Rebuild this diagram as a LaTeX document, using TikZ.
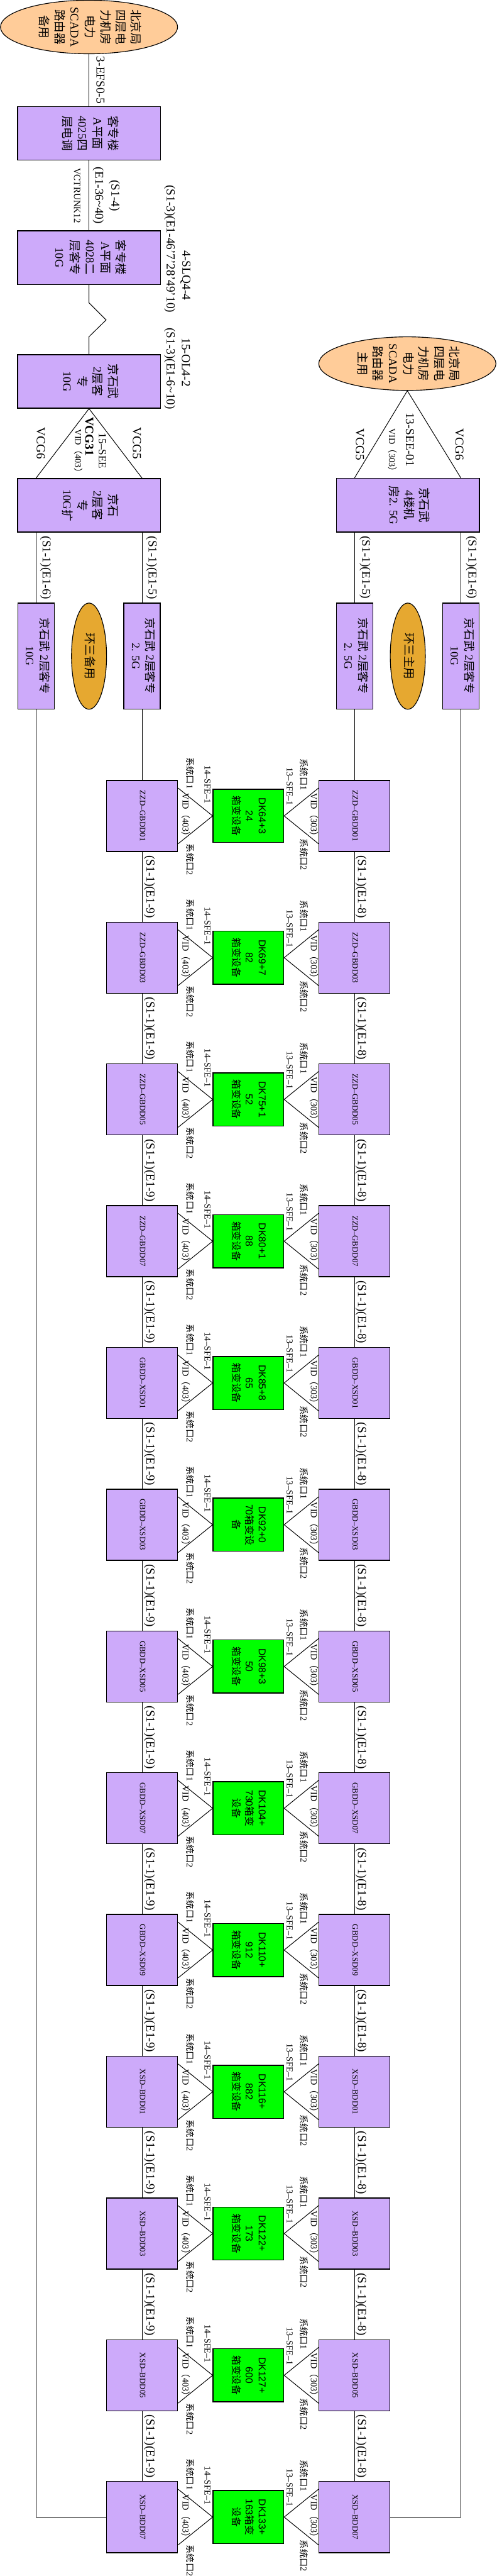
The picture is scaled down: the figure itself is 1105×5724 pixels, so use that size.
\documentclass[tikz,border=0pt]{standalone}
\usepackage{fontspec}
\setmainfont{Liberation Serif}
\newfontfamily\cjk{Noto Sans CJK SC}
\newfontfamily\dkfont{Liberation Sans}
\usepackage{graphicx}
\usetikzlibrary{calc,shapes.geometric}
\definecolor{lav}{RGB}{205,170,250}
\definecolor{dkg}{RGB}{0,255,0}
\definecolor{peach}{RGB}{255,204,153}
\definecolor{ringo}{RGB}{230,168,48}
\newcommand{\zh}[1]{{\cjk #1}}
\newcommand{\vt}[1]{\rotatebox{-90}{\begin{tabular}{@{}c@{}}#1\end{tabular}}}

\begin{document}
\begin{tikzpicture}[x=0.5pt,y=-0.5pt,
  dev/.style={draw,line width=1pt,fill=lav,inner sep=0pt},
  bigbox/.style={dev,minimum width=159pt,minimum height=59.5pt,font=\fontsize{13}{17}\selectfont},
  ringbox/.style={dev,minimum width=40.5pt,minimum height=118pt,font=\fontsize{12.5}{16}\selectfont},
  stnbox/.style={dev,minimum width=79pt,minimum height=79pt,font=\fontsize{9}{11}\selectfont},
  dkbox/.style={draw,line width=1pt,fill=dkg,inner sep=0pt,minimum width=78.5pt,minimum height=59pt,font=\dkfont\fontsize{11}{14.5}\selectfont},
  router/.style={ellipse,draw,line width=0.8pt,fill=peach,inner sep=-2pt,minimum width=197pt,minimum height=59.5pt,font=\fontsize{13}{17}\selectfont},
  ringell/.style={ellipse,draw,line width=0.8pt,fill=ringo,inner sep=0pt,minimum width=39pt,minimum height=118pt,font=\fontsize{13}{17}\selectfont},
  lbl/.style={inner sep=0pt,font=\fontsize{13.5}{18}\selectfont},
  tag/.style={inner sep=0pt,font=\fontsize{10}{12}\selectfont},
  link/.style={line width=0.7pt}]
  \useasboundingbox (0,0) rectangle (1105,5724);

  \node[router] (bak) at (198,60) {\vt{\zh{北京局}\\\zh{四层电}\\\zh{力机房}\\\zh{电力}\\SCADA\\\zh{路由器}\\\zh{备用}}};
  \node[bigbox] (b1) at (198,296.5) {\vt{\zh{客专楼}\\A\zh{平面}\\4025\zh{四}\\\zh{层电调}}};
  \node[bigbox] (b2) at (198,572.5) {\vt{\zh{客专楼}\\A\zh{平面}\\4028\zh{二}\\\zh{层客专}\\10G}};
  \node[bigbox] (b3) at (198,847.5) {\vt{\zh{京石武}\\2\zh{层客}\\\zh{专}\\10G}};
  \node[bigbox] (b4) at (198,1123) {\vt{\zh{京石}\\2\zh{层客}\\\zh{专}\\10G\zh{扩}}};
  \node[router] (mn) at (906,808) {\vt{\zh{北京局}\\\zh{四层电}\\\zh{力机房}\\\zh{电力}\\SCADA\\\zh{路由器}\\\zh{主用}}};
  \node[bigbox] (r4) at (907.5,1122.5) {\vt{\zh{京石武}\\4\zh{楼机}\\\zh{房}2. 5G}};

  \node[ringbox] (l10) at (80,1458) {\vt{\zh{京石武} 2\zh{层客专}\\10G}};
  \node[ringell] (lbk) at (198,1458) {\vt{\zh{环三备用}}};
  \node[ringbox] (l25) at (316,1458) {\vt{\zh{京石武} 2\zh{层客专}\\2. 5G}};
  \node[ringbox] (r25) at (788.5,1458) {\vt{\zh{京石武} 2\zh{层客专}\\2. 5G}};
  \node[ringell] (rmn) at (907,1458) {\vt{\zh{环三主用}}};
  \node[ringbox] (r10) at (1025,1458) {\vt{\zh{京石武} 2\zh{层客专}\\10G}};

  \foreach \nm/\dk [count=\i from 0] in {
      ZZD–GBDD01/{DK64+3\\24\\\zh{箱变设备}},
      ZZD–GBDD03/{DK69+7\\82\\\zh{箱变设备}},
      ZZD–GBDD05/{DK75+1\\52\\\zh{箱变设备}},
      ZZD–GBDD07/{DK80+1\\88\\\zh{箱变设备}},
      GBDD–XSD01/{DK85+8\\65\\\zh{箱变设备}},
      GBDD–XSD03/{DK92+0\\70\zh{箱变设}\\\zh{备}},
      GBDD–XSD05/{DK98+3\\50\\\zh{箱变设备}},
      GBDD–XSD07/{DK104+\\730\zh{箱变}\\\zh{设备}},
      GBDD–XSD09/{DK110+\\912\\\zh{箱变设备}},
      XSD–BDD01/{DK116+\\882\\\zh{箱变设备}},
      XSD–BDD03/{DK122+\\173\\\zh{箱变设备}},
      XSD–BDD05/{DK127+\\600\\\zh{箱变设备}},
      XSD–BDD07/{DK133+\\163\zh{箱变}\\\zh{设备}}}{
    \pgfmathsetmacro\cy{1813+315*\i}
    \node[stnbox] (L\i) at (316,\cy) {\vt{\nm}};
    \node[dkbox] (G\i) at (552.5,\cy) {\vt{\dk}};
    \node[stnbox] (R\i) at (788.5,\cy) {\vt{\nm}};
    \draw[link] ($(L\i.east)+(0,-62)$) -- (G\i.west) -- ($(L\i.east)+(0,62)$);
    \draw[link] ($(R\i.west)+(0,-62)$) -- (G\i.east) -- ($(R\i.west)+(0,62)$);
    \node[tag] (la\i) at ($(L\i.east)+(24,-95)$) {\vt{\zh{系统口}1}};
    \node[tag] (lb\i) at ($(L\i.east)+(64,-70)$) {\vt{14–SFE–1}};
    \node[tag] (lc\i) at ($(L\i.east)+(15,3)$) {\vt{VID\zh{（}403\zh{）}}};
    \node[tag] (ld\i) at ($(L\i.east)+(24,97)$) {\vt{\zh{系统口}2}};
    \node[tag] (ra\i) at ($(R\i.west)+(-35,-92)$) {\vt{\zh{系统口}1}};
    \node[tag] (rb\i) at ($(R\i.west)+(-66,-65)$) {\vt{13–SFE–1}};
    \node[tag] (rc\i) at ($(R\i.west)+(-12,3)$) {\vt{VID\zh{（}303\zh{）}}};
    \node[tag] (rd\i) at ($(R\i.west)+(-35,86)$) {\vt{\zh{系统口}2}};
  }
  \foreach \i [evaluate=\i as \j using int(\i+1)] in {0,...,11}{
    \draw[link] (L\i) -- node[lbl,midway,xshift=8.5pt] (cl\i) {\vt{(S1-1)(E1-9)}} (L\j);
    \draw[link] (R\i) -- node[lbl,midway,xshift=7.5pt] (cr\i) {\vt{(S1-1)(E1-8)}} (R\j);
  }

  \draw[link] (bak) -- node[lbl,midway,xshift=12pt] (t0) {\vt{3-EFS0-5}} (b1);
  \draw[link] (b1) -- node[lbl,midway,xshift=19.5pt] (t1) {\vt{(S1-4)\\(E1-36\textasciitilde40)}}
    node[lbl,midway,xshift=-14pt,font=\fontsize{10.5}{13}\selectfont] (t2) {\vt{VCTRUNK12}} (b2);
  \draw[link] (b2.south) -- ++(0,40) -- ++(38,38) -- ++(-38,37) -- (b3.north);
  \draw[link] (b4.north -| l10) -- (b3.south) -- (b4.north -| l25);
  \draw[link] (r4.north -| r25) -- (mn.south) -- (r4.north -| r10);
  \draw[link] (b4.south -| l10) -- node[lbl,midway,xshift=11pt] (t3) {\vt{(S1-1)(E1-6)}} (l10);
  \draw[link] (b4.south -| l25) -- node[lbl,midway,xshift=11pt] (t4) {\vt{(S1-1)(E1-5)}} (l25);
  \draw[link] (r4.south -| r25) -- node[lbl,midway,xshift=12pt] (t5) {\vt{(S1-1)(E1-5)}} (r25);
  \draw[link] (r4.south -| r10) -- node[lbl,midway,xshift=12pt] (t6) {\vt{(S1-1)(E1-6)}} (r10);
  \draw[link] (l25) -- (L0);
  \draw[link] (r25) -- (R0);
  \draw[link] (l10) |- (L12);
  \draw[link] (r10) |- (R12);

  \node[lbl] (q1) at (413,612) {\vt{4-SLQ4-4}};
  \node[lbl] (q2) at (378,553) {\vt{(S1-3)(E1-46'7'28'49'10)}};
  \node[lbl] (q3) at (412,805) {\vt{15-OL4-2}};
  \node[lbl] (q4) at (378,819) {\vt{(S1-3)(E1-6\textasciitilde10)}};
  \node[lbl] (v6) at (89,985) {\vt{VCG6}};
  \node[lbl] (v5) at (303,985) {\vt{VCG5}};
  \node[lbl,font=\fontsize{12}{15}\selectfont] (s15) at (226,1002) {\vt{15–SEE}};
  \node[lbl] (v31) at (197,970) {\vt{\textbf{VCG31}}};
  \node[tag] (vid4) at (172,1007) {\vt{VID\zh{（}403\zh{）}}};
  \node[lbl] (s13) at (910,977) {\vt{13-SEE-01}};
  \node[tag] (vid3) at (870,1005) {\vt{VID\zh{（}303\zh{）}}};
  \node[lbl] (w5) at (799,988) {\vt{VCG5}};
  \node[lbl] (w6) at (1020,988) {\vt{VCG6}};
\end{tikzpicture}
\end{document}
